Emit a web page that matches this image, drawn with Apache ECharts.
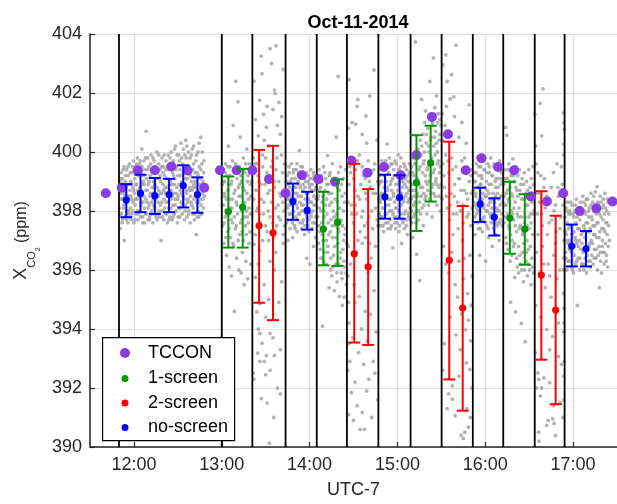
<!DOCTYPE html>
<html><head><meta charset="utf-8">
<script src="https://cdn.jsdelivr.net/npm/echarts@6/dist/echarts.min.js"></script>
<style>html,body{margin:0;padding:0;background:#fff}#c{width:617px;height:504px}</style>
</head><body><div id="c"></div>
<script>
// times are minutes of the day (UTC-7)
const segmentBounds = [709.8, 780, 800.9, 823.6, 844.9, 865.5, 887, 909, 930.2, 951.5, 972.3, 993.8, 1014.2];
const yTicks = [390, 392, 394, 396, 398, 400, 402, 404];
const tcconTime = [700.8,711.7,722.7,734.3,745.6,756.7,768.0,778.8,790.2,801.0,812.3,823.6,834.7,846.0,857.4,868.6,879.5,890.8,902.2,913.0,923.6,934.5,946.7,957.5,968.9,979.7,991.1,1002.1,1013.2,1024.5,1035.9,1046.9];
const tcconValue = [398.60,398.79,399.38,399.38,399.51,399.37,398.79,399.38,399.38,399.38,399.08,398.60,399.21,399.08,398.99,399.71,399.30,399.49,399.21,399.90,401.19,400.60,399.38,399.79,399.49,399.38,398.49,398.32,398.60,398.00,398.09,398.32];
// [time, mean, low, high]
const noScreen = [[714.8,398.37,397.79,398.91],[724.5,398.60,397.96,399.23],[734.3,398.52,397.90,399.12],[744.0,398.56,397.96,399.09],[753.7,398.86,398.12,399.55],[763.4,398.56,397.94,399.14],[828.6,398.32,397.70,398.93],[838.4,398.02,397.37,398.65],[891.5,398.48,397.74,399.23],[901.5,398.46,397.74,399.21],[956.5,398.24,397.63,398.79],[966.2,397.79,397.17,398.43],[1019.1,396.81,396.12,397.54],[1028.8,396.72,396.12,397.32]];
const oneScreen = [[784.5,397.98,396.76,399.17],[794.3,398.13,396.76,399.43],[849.4,397.39,396.16,398.65],[859.1,397.62,396.14,399.07],[913.0,398.96,397.32,400.57],[922.7,399.63,398.32,400.89],[976.8,397.76,396.55,398.99],[987.0,397.39,396.18,398.57]];
const twoScreen = [[805.5,397.50,394.89,400.07],[815.0,397.26,394.30,400.21],[870.5,396.55,393.54,399.60],[880.0,396.11,393.46,398.74],[935.4,396.33,392.29,400.35],[944.6,394.71,391.23,398.17],[998.3,395.83,392.96,398.67],[1008.1,394.64,391.45,397.84]];

const grayA = [[710.2,398.1],[710.4,399.0],[710.6,397.4],[710.9,398.6],[711.2,399.3],[711.5,397.9],[711.8,398.4],[712.1,399.1],[712.3,397.7],[712.6,398.8],[712.9,398.2],[713.2,399.5],[713.4,397.0],[713.7,398.5],[714.0,399.0],[714.3,397.8],[714.6,398.3],[714.9,399.4],[715.2,398.0],[715.5,398.9],[715.8,397.6],[716.1,399.2],[716.4,398.5],[716.7,397.9],[717.0,399.6],[717.3,398.7],[717.6,398.1],[717.9,399.0],[718.2,397.7],[718.5,398.4],[718.8,399.3],[719.1,398.0],[719.4,398.8],[719.7,399.7],[720.0,397.6],[720.3,398.6],[720.6,399.1],[720.9,398.2],[721.2,399.5],[721.5,397.9],[721.8,398.9],[722.1,398.4],[722.4,399.8],[722.7,397.7],[723.0,399.2],[723.3,398.5],[723.6,398.0],[723.9,399.6],[724.2,398.8],[724.5,397.8],[724.8,399.3],[725.1,398.3],[725.4,400.1],[725.7,398.9],[726.0,397.6],[726.3,399.0],[726.6,398.5],[726.9,399.7],[727.2,398.1],[727.5,399.4],[727.8,397.9],[728.1,398.7],[728.4,400.7],[728.7,399.1],[729.0,398.3],[729.3,399.8],[729.6,397.7],[729.9,398.9],[730.2,399.5],[730.5,398.2],[730.8,397.8],[731.1,399.2],[731.4,398.6],[731.7,399.9],[732.0,398.0],[732.3,398.8],[732.6,399.4],[732.9,397.6],[733.2,398.4],[733.5,399.0],[733.8,399.7],[734.1,398.1],[734.4,398.9],[734.7,397.9],[735.0,399.3],[735.3,398.5],[735.6,400.0],[735.9,397.7],[736.2,399.1],[736.5,398.3],[736.8,399.6],[737.1,398.7],[737.4,397.8],[737.7,399.4],[738.0,398.2],[738.3,399.0],[738.6,397.0],[738.9,398.6],[739.2,399.8],[739.5,398.0],[739.8,398.9],[740.1,399.5],[740.4,397.7],[740.7,398.4],[741.0,399.2],[741.3,398.8],[741.6,397.9],[741.9,399.7],[742.2,398.3],[742.5,399.1],[742.8,397.6],[743.1,398.6],[743.4,399.9],[743.7,398.1],[744.0,399.4],[744.3,398.7],[744.6,397.8],[744.9,399.0],[745.2,398.4],[745.5,400.0],[745.8,398.9],[746.1,397.7],[746.4,399.3],[746.7,398.2],[747.0,399.7],[747.3,398.6],[747.6,397.9],[747.9,399.1],[748.2,398.4],[748.5,400.2],[748.8,398.0],[749.1,399.5],[749.4,398.8],[749.7,397.6],[750.0,399.2],[750.3,398.5],[750.6,399.9],[750.9,398.1],[751.2,397.8],[751.5,399.4],[751.8,398.7],[752.1,400.3],[752.4,398.3],[752.7,399.0],[753.0,397.9],[753.3,399.6],[753.6,398.5],[753.9,400.1],[754.2,398.9],[754.5,397.7],[754.8,399.3],[755.1,398.2],[755.4,400.4],[755.7,399.8],[756.0,398.6],[756.3,397.8],[756.6,399.1],[756.9,398.4],[757.2,400.0],[757.5,398.0],[757.8,399.5],[758.1,398.8],[758.4,397.6],[758.7,399.2],[759.0,398.3],[759.3,399.9],[759.6,398.7],[759.9,397.9],[760.2,399.4],[760.5,398.1],[760.8,400.2],[761.1,398.9],[761.4,397.7],[761.7,399.0],[762.0,398.5],[762.3,399.7],[762.6,397.2],[762.9,398.3],[763.2,399.3],[763.5,398.0],[763.8,400.0],[764.1,398.7],[764.4,397.8],[764.7,399.5],[765.0,398.4],[765.3,399.1],[765.6,400.5],[765.9,398.2],[766.2,397.9],[766.5,399.6],[766.8,398.6],[767.1,399.0],[767.4,398.1],[767.7,399.3]];
const grayA2 = [[710.3,398.7],[710.8,397.9],[711.0,399.1],[711.4,398.4],[711.9,397.6],[712.2,398.9],[712.7,399.4],[713.0,398.1],[713.5,398.6],[713.9,397.8],[714.2,399.2],[714.7,398.8],[715.0,397.7],[715.4,398.5],[715.9,399.5],[716.3,398.0],[716.6,398.9],[717.1,397.8],[717.5,399.3],[717.8,398.5],[718.3,398.9],[718.7,397.9],[719.0,399.5],[719.5,398.3],[719.9,398.7],[720.2,399.4],[720.7,397.7],[721.0,398.4],[721.4,398.9],[721.9,399.6],[722.3,398.0],[722.6,398.7],[723.1,397.9],[723.5,399.4],[723.8,398.6],[724.3,399.7],[724.7,398.2],[725.0,398.7],[725.5,399.5],[725.9,397.8],[726.2,398.3],[726.7,399.2],[727.1,398.9],[727.4,397.6],[727.9,399.8],[728.3,398.4],[728.6,397.9],[729.1,398.7],[729.5,399.4],[729.8,398.1],[730.3,399.0],[730.7,397.7],[731.0,398.5],[731.5,399.6],[731.9,398.3],[732.2,397.9],[732.7,398.6],[733.1,399.8],[733.4,398.2],[733.9,398.8],[734.3,399.5],[734.6,398.4],[735.1,397.8],[735.5,399.1],[735.8,398.8],[736.3,397.9],[736.7,398.5],[737.0,399.9],[737.5,398.0],[737.9,399.2],[738.2,398.6],[738.7,399.5],[739.0,398.3],[739.4,397.8],[739.9,399.3],[740.3,398.7],[740.6,399.9],[741.1,398.1],[741.5,398.6],[741.8,399.4],[742.3,397.9],[742.7,398.8],[743.0,399.5],[743.5,398.3],[743.9,397.7],[744.2,398.9],[744.7,399.8],[745.1,398.1],[745.4,398.7],[745.9,399.6],[746.3,398.5],[746.6,397.8],[747.1,399.2],[747.5,398.9],[747.8,400.1],[748.3,398.2],[748.7,399.4],[749.0,398.6],[749.5,399.9],[749.9,398.4],[750.2,397.8],[750.7,398.9],[751.1,399.7],[751.4,398.1],[751.9,399.2],[752.3,398.6],[752.6,399.8],[753.1,398.2],[753.5,398.8],[753.8,399.3],[754.3,398.4],[754.7,399.9],[755.0,398.0],[755.5,399.1],[755.9,398.7],[756.2,400.2],[756.7,398.3],[757.1,399.4],[757.4,397.9],[757.9,398.7],[758.3,399.8],[758.6,398.5],[759.1,399.0],[759.5,398.2],[759.8,400.1],[760.3,398.8],[760.7,399.6],[761.0,398.4],[761.5,397.9],[761.9,399.3],[762.2,398.8],[762.7,399.9],[763.1,398.5],[763.4,397.8],[763.9,399.2],[764.3,398.3],[764.6,400.3],[765.1,398.9],[765.5,397.9],[765.8,399.4],[766.3,398.8],[766.7,400.0],[767.0,398.4],[767.5,398.9],[767.9,399.7],[768.2,398.5]];
const grayB = [[780.3,398.9],[780.6,397.5],[780.9,399.4],[781.2,398.2],[781.5,396.9],[781.8,399.0],[782.1,398.5],[782.4,397.8],[782.7,399.6],[783.0,398.0],[783.3,396.5],[783.6,399.2],[783.9,397.3],[784.2,398.7],[784.5,400.2],[784.8,397.9],[785.1,396.1],[785.4,398.4],[785.7,399.5],[786.0,397.1],[786.3,398.9],[786.6,395.8],[786.9,398.1],[787.2,399.7],[787.5,397.6],[787.8,400.9],[788.1,396.8],[788.4,398.6],[788.7,394.6],[789.0,399.3],[789.3,397.4],[789.6,402.4],[789.9,398.3],[790.2,396.4],[790.5,399.1],[790.8,397.9],[791.1,401.7],[791.4,398.8],[791.7,396.0],[792.0,399.5],[792.3,397.2],[792.6,400.5],[792.9,398.5],[793.2,395.9],[793.5,399.0],[793.8,397.7],[794.1,396.6],[794.4,398.2],[794.7,399.8],[795.0,397.0],[795.3,395.5],[795.6,398.7],[795.9,399.3],[796.2,397.5],[796.5,396.3],[796.8,398.0],[797.1,400.1],[797.4,397.8],[797.7,395.7],[798.0,399.2],[798.3,398.4],[798.6,396.9],[798.9,399.6],[799.2,397.3],[799.5,398.9],[799.8,396.2],[800.1,399.4],[800.4,397.9]];
const grayB2 = [[780.5,398.2],[781.0,399.0],[781.4,397.6],[781.9,398.6],[782.3,399.3],[782.8,397.1],[783.2,398.4],[783.7,397.9],[784.1,399.5],[784.6,398.9],[785.0,397.4],[785.5,399.2],[785.9,398.1],[786.4,397.7],[786.8,399.0],[787.3,398.4],[787.7,396.9],[788.2,399.4],[788.6,397.8],[789.1,398.7],[789.5,399.6],[790.0,397.5],[790.4,398.2],[790.9,399.3],[791.3,397.0],[791.8,398.5],[792.2,398.9],[792.7,397.6],[793.1,399.2],[793.6,398.0],[794.0,397.3],[794.5,398.8],[794.9,399.4],[795.4,397.8],[795.8,398.3],[796.3,399.6],[796.7,397.2],[797.2,398.6],[797.6,399.0],[798.1,397.6],[798.5,398.1],[799.0,399.3],[799.4,397.9],[799.9,398.5],[800.3,399.0]];
const grayC = [[807,403.25],[813,403.5],[817,403.6],[802,402.4],[807.5,402.65],[814,403.0],[816,402.1],[816.5,401.98],[806,401.76],[811,401.55],[808.5,401.28],[815,401.44],[819,401.68],[803,401.1],[810.5,400.84],[818,400.9],[805,400.55],[809,400.4],[812,400.2],[820,400.6],[821,401.2],[822,402.8],[801.5,399.8],[802.5,399.3],[803.5,398.7],[804,399.6],[804.5,398.1],[805.5,399.0],[806.5,397.6],[807,398.4],[808,399.5],[808.5,397.9],[809.5,398.9],[810,399.8],[811,397.3],[811.5,398.6],[812.5,399.2],[813,397.8],[814,398.3],[814.5,399.7],[815.5,397.1],[816,398.8],[817,399.4],[817.5,397.5],[818.5,398.2],[819,399.0],[820,397.7],[820.5,398.5],[821.5,399.3],[822,397.2],[822.5,398.0],[823,399.6],[802,396.87],[806,396.65],[813,396.3],[816,396.0],[803,395.75],[809,395.5],[806,394.86],[804,394.58],[810,394.4],[806,393.85],[813,393.85],[807.5,393.52],[815,393.7],[804.5,393.18],[810.5,393.1],[806,392.9],[813,392.6],[810,392.45],[802,392.3],[801.5,392.5],[807,391.64],[811,391.49],[812.5,390.13],[815.5,391.0],[818,392.0],[820,393.3],[819,394.9],[821,395.6],[817,396.6],[822,396.9],[812,395.0],[805,396.2],[808,397.0],[803,397.2]];
const grayC2 = [[801.8,398.4],[802.8,399.6],[803.8,398.0],[804.8,399.2],[805.8,397.9],[806.8,398.9],[807.8,399.9],[808.8,398.3],[809.8,397.5],[810.8,399.3],[811.8,398.0],[812.8,398.7],[813.8,399.5],[814.8,397.6],[815.8,399.0],[816.8,398.1],[817.8,399.8],[818.8,397.8],[819.8,398.6],[820.8,399.9],[821.8,398.3],[822.8,397.5],[805,394.0],[809,392.9],[816,393.1],[820,391.8],[812,397.0]];
const grayD = [[824.0,398.6],[824.3,397.6],[824.6,399.2],[824.9,398.1],[825.2,397.0],[825.5,398.9],[825.8,399.5],[826.1,397.9],[826.4,398.4],[826.7,397.4],[827.0,399.0],[827.3,398.2],[827.6,399.6],[827.9,397.7],[828.2,398.7],[828.5,397.1],[828.8,399.3],[829.1,398.0],[829.4,398.8],[829.7,397.5],[830.0,399.1],[830.3,398.4],[830.6,397.8],[830.9,399.4],[831.2,398.6],[831.5,397.3],[831.8,398.1],[832.1,399.0],[832.4,397.9],[832.7,398.9],[833.0,400.05],[833.3,398.3],[833.6,397.6],[833.9,399.2],[834.2,398.5],[834.5,397.4],[834.8,398.0],[835.1,399.5],[835.4,398.7],[835.7,397.7],[836.0,398.2],[836.3,399.1],[836.6,397.2],[836.9,398.8],[837.2,398.4],[837.5,397.9],[837.8,399.3],[838.1,396.4],[838.4,398.6],[838.7,397.5],[839.0,399.0],[839.3,398.1],[839.6,397.3],[839.9,398.9],[840.2,396.2],[840.5,398.3],[840.8,399.4],[841.1,397.8],[841.4,398.7],[841.7,397.4],[842.0,399.1],[842.3,398.0],[842.6,396.8],[842.9,398.5],[843.2,399.2],[843.5,397.6],[843.8,398.2],[844.1,397.1],[844.4,398.8],[844.7,399.0]];
const grayD2 = [[824.2,399.0],[824.7,398.4],[825.1,397.7],[825.6,398.2],[826.0,399.3],[826.5,398.8],[826.9,397.9],[827.4,398.5],[827.8,399.1],[828.3,397.6],[828.7,398.3],[829.2,399.4],[829.6,398.6],[830.1,397.4],[830.5,398.8],[831.0,398.2],[831.4,399.6],[831.9,397.7],[832.3,398.5],[832.8,399.3],[833.2,397.9],[833.7,398.8],[834.1,399.5],[834.6,398.2],[835.0,397.6],[835.5,398.9],[835.9,399.3],[836.4,398.0],[836.8,397.5],[837.3,399.0],[837.7,398.6],[838.2,397.8],[838.6,399.2],[839.1,398.4],[839.5,397.7],[840.0,398.8],[840.4,399.1],[840.9,397.9],[841.3,398.3],[841.8,398.9],[842.2,397.6],[842.7,399.3],[843.1,398.2],[843.6,398.7],[844.0,397.8],[844.5,398.4]];
const grayE = [[845.3,399.0],[845.6,397.8],[845.9,398.5],[846.2,396.9],[846.5,399.4],[846.8,398.1],[847.1,397.3],[847.4,398.8],[847.7,396.4],[848.0,399.2],[848.3,397.6],[848.6,398.3],[848.9,394.1],[849.2,397.0],[849.5,399.5],[849.8,398.0],[850.1,396.6],[850.4,398.7],[850.7,397.4],[851.0,399.1],[851.3,396.2],[851.6,398.4],[851.9,397.9],[852.2,399.88],[852.5,396.8],[852.8,398.9],[853.1,397.2],[853.4,395.4],[853.7,398.2],[854.0,399.3],[854.3,396.0],[854.6,397.7],[854.9,398.6],[855.2,395.8],[855.5,399.6],[855.8,397.1],[856.1,398.0],[856.4,396.5],[856.7,399.0],[857.0,395.3],[857.3,397.5],[857.6,398.4],[857.9,396.2],[858.2,400.5],[858.5,397.9],[858.8,395.6],[859.1,398.8],[859.4,396.9],[859.7,399.3],[860.0,397.3],[860.3,395.1],[860.6,398.1],[860.9,396.4],[861.2,399.5],[861.5,397.7],[861.8,395.9],[862.1,398.5],[862.4,394.8],[862.7,396.7],[863.0,399.1],[863.3,397.0],[863.6,395.08],[863.9,398.3],[864.2,396.1],[864.5,399.4],[864.8,397.4],[865.1,395.5],[859.5,402.56]];
const grayE2 = [[845.5,398.4],[846.0,399.2],[846.4,397.5],[846.9,398.7],[847.3,396.7],[847.8,398.0],[848.2,399.0],[848.7,397.2],[849.1,398.5],[849.6,396.3],[850.0,397.8],[850.5,399.3],[850.9,398.2],[851.4,397.0],[851.8,398.9],[852.3,396.6],[852.7,397.6],[853.2,398.6],[853.6,399.2],[854.1,397.3],[854.5,396.4],[855.0,398.3],[855.4,397.5],[855.9,396.1],[856.3,399.1],[856.8,397.8],[857.2,396.8],[857.7,398.9],[858.1,397.1],[858.6,395.9],[859.0,398.3],[859.5,397.4],[859.9,396.2],[860.4,398.7],[860.8,397.6],[861.3,396.6],[861.7,398.9],[862.2,395.7],[862.6,397.5],[863.1,398.0],[863.5,396.3],[864.0,397.2],[864.4,398.6],[864.9,395.9],[865.3,396.9]];
const grayF = [[867,402.45],[873,401.78],[872.5,401.55],[878.5,401.22],[871.5,400.94],[884,402.78],[869,401.0],[876,400.6],[881,401.9],[886,400.4],[866.5,400.8],[879,400.3],[866,399.7],[867,398.9],[868,399.3],[868.5,398.2],[869.5,399.8],[870,397.6],[871,398.7],[871.5,399.4],[872,397.9],[873,398.5],[874,399.9],[874.5,397.3],[875,398.9],[876,399.5],[876.5,398.0],[877.5,397.5],[878,399.1],[879,398.4],[880,399.7],[880.5,397.8],[881.5,398.8],[882,399.3],[883,397.4],[883.5,398.6],[884.5,399.6],[885,398.1],[886,397.7],[886.5,399.0],[866.5,396.8],[868,396.2],[870.5,395.5],[872,396.6],[874,395.1],[876,396.9],[878,394.6],[880,395.9],[882,396.4],[884,395.3],[867,394.2],[869.5,393.7],[871,394.9],[873.5,393.2],[875.5,394.0],[877,392.8],[879.5,393.6],[881.5,394.5],[883.5,392.9],[885.5,393.9],[866,392.6],[868.5,391.84],[871,392.2],[872.5,391.4],[874.5,390.6],[876,391.17],[877.5,390.6],[879,391.9],[880.5,392.3],[882.5,391.0],[884.5,392.5],[886.5,391.6],[870,390.9],[885,396.8],[878,397.1]];
const grayF2 = [[866.2,398.3],[867.5,399.5],[868.8,397.9],[870.2,399.1],[871.3,398.2],[872.8,399.7],[874.2,398.4],[875.6,397.8],[876.8,399.2],[878.3,398.6],[879.6,397.6],[880.8,399.0],[882.4,398.0],[883.8,399.4],[885.3,398.6],[886.7,397.5],[866.3,395.8],[866.7,394.9],[866.4,393.5],[867.5,392.9],[866.6,391.1],[873,397.0],[881,396.9]];
const grayG = [[887.3,398.9],[887.6,397.9],[887.9,399.4],[888.2,398.3],[888.5,397.5],[888.8,399.0],[889.1,398.6],[889.4,399.7],[889.7,397.8],[890.0,398.4],[890.3,399.2],[890.6,397.3],[890.9,398.8],[891.2,398.1],[891.5,399.5],[891.8,397.6],[892.1,398.5],[892.4,399.0],[892.7,397.9],[893.0,400.27],[893.3,398.7],[893.6,397.4],[893.9,399.3],[894.2,398.2],[894.5,399.8],[894.8,397.7],[895.1,398.9],[895.4,398.4],[895.7,399.6],[896.0,397.5],[896.3,398.0],[896.6,399.1],[896.9,396.75],[897.2,398.6],[897.5,399.4],[897.8,397.8],[898.1,398.3],[898.4,399.7],[898.7,397.4],[899.0,398.9],[899.3,398.1],[899.6,399.2],[899.9,397.6],[900.2,398.7],[900.5,399.9],[900.8,398.0],[901.1,397.3],[901.4,399.0],[901.7,398.5],[902.0,399.5],[902.3,397.9],[902.6,398.2],[902.9,396.9],[903.2,399.3],[903.5,398.8],[903.8,397.6],[904.1,398.4],[904.4,399.6],[904.7,397.4],[905.0,398.9],[905.3,399.1],[905.6,398.0],[905.9,397.7],[906.2,399.4],[906.5,398.6],[906.8,397.2],[907.1,398.3],[907.4,399.0],[907.7,397.8],[908.0,398.7],[908.3,399.6],[908.6,398.1]];
const grayG2 = [[887.5,398.4],[888.0,399.2],[888.4,397.8],[888.9,398.5],[889.3,399.0],[889.8,398.1],[890.2,397.5],[890.7,399.4],[891.1,398.6],[891.6,397.9],[892.0,399.7],[892.5,398.2],[892.9,398.8],[893.4,397.6],[893.8,398.4],[894.3,399.5],[894.7,398.0],[895.2,397.4],[895.6,399.0],[896.1,398.7],[896.5,399.6],[897.0,397.9],[897.4,398.5],[897.9,399.2],[898.3,397.6],[898.8,398.1],[899.2,399.6],[899.7,398.4],[900.1,397.8],[900.6,398.9],[901.0,399.4],[901.5,397.5],[901.9,398.2],[902.4,399.8],[902.8,398.6],[903.3,397.7],[903.7,399.0],[904.2,398.3],[904.6,397.9],[905.1,399.5],[905.5,398.5],[906.0,397.5],[906.4,398.8],[906.9,399.2],[907.3,397.9],[907.8,398.4],[908.2,399.3],[908.7,397.7]];
const grayH = [[909.3,398.4],[909.6,399.5],[909.9,397.6],[910.2,398.9],[910.5,397.1],[910.8,399.8],[911.1,398.2],[911.4,399.2],[911.7,397.9],[912.0,398.7],[912.3,403.73],[912.6,399.6],[912.9,398.0],[913.2,396.53],[913.5,399.1],[913.8,398.5],[914.1,400.1],[914.4,397.7],[914.7,399.4],[915.0,398.3],[915.3,395.64],[915.6,400.4],[915.9,398.8],[916.2,399.9],[916.5,401.78],[916.8,398.1],[917.1,399.3],[917.4,400.6],[917.7,397.5],[918.0,398.6],[918.3,399.7],[918.6,401.0],[918.9,398.4],[919.2,401.39],[919.5,399.0],[919.8,400.3],[920.1,397.9],[920.4,398.9],[920.7,400.8],[921.0,399.5],[921.3,398.2],[921.6,400.0],[921.9,401.2],[922.2,402.39],[922.5,399.2],[922.8,398.6],[923.1,400.5],[923.4,399.8],[923.7,397.8],[924.0,401.0],[924.3,398.9],[924.6,403.19],[924.9,400.2],[925.2,399.4],[925.5,401.5],[925.8,398.5],[926.1,400.7],[926.4,399.1],[926.7,401.9],[927.0,398.2],[927.3,400.0],[927.6,399.6],[927.9,401.3],[928.2,398.8],[928.5,400.4],[928.8,399.3],[929.1,401.1],[929.4,398.0],[929.7,400.9]];
const grayH2 = [[909.5,398.0],[910.0,398.7],[910.4,399.3],[910.9,397.8],[911.3,398.5],[911.8,399.6],[912.2,398.3],[912.7,397.6],[913.1,399.0],[913.6,398.6],[914.0,399.8],[914.5,398.0],[914.9,398.9],[915.4,399.5],[915.8,397.9],[916.3,398.5],[916.7,400.2],[917.2,398.8],[917.6,399.6],[918.1,398.2],[918.5,400.0],[919.0,399.2],[919.4,398.5],[919.9,400.6],[920.3,399.4],[920.8,398.7],[921.2,400.2],[921.7,399.0],[922.1,398.4],[922.6,400.4],[923.0,399.6],[923.5,398.8],[923.9,400.9],[924.4,399.3],[924.8,398.6],[925.3,400.5],[925.7,399.9],[926.2,399.0],[926.6,400.3],[927.1,398.9],[927.5,401.0],[928.0,399.7],[928.4,398.5],[928.9,400.6],[929.3,399.5],[929.8,398.9]];
const grayI = [[931,402.95],[933,403.29],[934,402.39],[937,402.62],[940,403.62],[938.5,401.87],[936,401.8],[933.5,401.55],[930.5,401.3],[932.5,400.9],[930.8,400.4],[935,400.7],[939,401.2],[942,400.5],[944,401.0],[947,400.3],[949,401.6],[931,399.6],[932,398.8],[933,399.9],[934,398.1],[935,399.3],[935.5,397.7],[936.5,398.6],[937,399.8],[938,397.9],[939,398.9],[940,399.5],[941,398.3],[941.5,397.4],[942.5,399.1],[943,398.0],[944,399.7],[945,397.6],[945.5,398.7],[946.5,399.3],[947.5,397.8],[948,398.4],[949,399.0],[950,397.5],[950.5,398.6],[951,399.4],[931.5,396.8],[933,396.2],[935,395.9],[937,396.6],[939.5,395.5],[941,395.08],[942,396.3],[944,394.52],[945,395.7],[946.5,393.97],[948,395.2],[949.5,396.5],[950.5,394.8],[943,393.3],[947,392.85],[949.5,392.63],[937.5,392.07],[934,391.3],[935,391.8],[937.5,391.62],[939.5,391.06],[945,390.29],[946,390.5],[943.5,390.4],[948.5,390.67],[947.5,391.3],[932,393.5],[936,394.4],[940,393.8],[942,392.4],[931,392.6],[950,393.6],[944.5,397.0],[938,397.2]];
const grayI2 = [[930.6,398.4],[931.8,399.2],[933.4,398.5],[934.6,399.7],[936.0,398.2],[937.6,399.4],[938.8,398.5],[940.4,397.9],[941.8,399.1],[943.4,398.7],[944.8,398.2],[946.0,399.8],[947.2,398.6],[948.6,397.9],[950.2,399.2],[951.2,398.1],[945.5,396.4],[948.5,394.3],[951,395.8],[950.8,392.0],[949.8,391.0]];
const grayJ = [[951.8,398.7],[952.1,397.6],[952.4,399.3],[952.7,398.2],[953.0,397.2],[953.3,399.0],[953.6,398.5],[953.9,399.6],[954.2,397.9],[954.5,398.8],[954.8,399.83],[955.1,398.0],[955.4,397.4],[955.7,399.2],[956.0,398.4],[956.3,396.5],[956.6,398.9],[956.9,399.5],[957.2,397.7],[957.5,398.3],[957.8,399.1],[958.1,397.3],[958.4,398.6],[958.7,399.7],[959.0,398.1],[959.3,397.8],[959.6,399.4],[959.9,398.5],[960.2,396.3],[960.5,398.0],[960.8,399.0],[961.1,397.5],[961.4,398.7],[961.7,399.6],[962.0,398.2],[962.3,397.1],[962.6,398.9],[962.9,399.3],[963.2,397.9],[963.5,398.4],[963.8,399.8],[964.1,397.6],[964.4,398.1],[964.7,396.8],[965.0,399.2],[965.3,398.6],[965.6,397.4],[965.9,399.5],[966.2,398.3],[966.5,397.8],[966.8,399.0],[967.1,398.8],[967.4,397.2],[967.7,399.4],[968.0,398.0],[968.3,398.6],[968.6,397.6],[968.9,399.1],[969.2,398.4],[969.5,397.0],[969.8,399.7],[970.1,398.2],[970.4,397.7],[970.7,398.9],[971.0,399.3],[971.3,398.5],[971.6,397.5],[971.9,399.0]];
const grayJ2 = [[952.0,398.3],[952.5,399.0],[952.9,397.8],[953.4,398.6],[953.8,399.3],[954.3,398.1],[954.7,397.6],[955.2,398.8],[955.6,399.5],[956.1,398.0],[956.5,397.4],[957.0,398.9],[957.4,399.2],[957.9,398.4],[958.3,397.7],[958.8,398.2],[959.2,399.4],[959.7,398.8],[960.1,397.6],[960.6,398.5],[961.0,399.3],[961.5,398.0],[961.9,397.4],[962.4,398.6],[962.8,399.5],[963.3,398.3],[963.7,397.8],[964.2,398.9],[964.6,399.2],[965.1,397.9],[965.5,398.4],[966.0,399.6],[966.4,397.6],[966.9,398.5],[967.3,399.1],[967.8,398.1],[968.2,397.5],[968.7,398.8],[969.1,399.4],[969.6,398.0],[970.0,397.6],[970.5,398.5],[970.9,399.1],[971.4,397.9],[971.8,398.3]];
const grayK = [[972.6,398.9],[972.9,397.6],[973.2,399.4],[973.5,398.2],[973.8,400.83],[974.1,397.1],[974.4,398.6],[974.7,400.57],[975.0,399.1],[975.3,397.9],[975.6,396.7],[975.9,398.4],[976.2,399.6],[976.5,397.4],[976.8,398.8],[977.1,396.3],[977.4,394.91],[977.7,399.2],[978.0,398.0],[978.3,397.0],[978.6,398.5],[978.9,399.77],[979.2,396.8],[979.5,397.7],[979.8,399.0],[980.1,395.75],[980.4,398.3],[980.7,394.58],[981.0,399.5],[981.3,397.3],[981.6,398.7],[981.9,396.1],[982.2,399.2],[982.5,397.8],[982.8,395.9],[983.1,398.1],[983.4,399.4],[983.7,396.5],[984.0,397.5],[984.3,398.9],[984.6,394.19],[984.9,396.0],[985.2,399.1],[985.5,397.2],[985.8,398.4],[986.1,395.6],[986.4,396.9],[986.7,399.3],[987.0,397.6],[987.3,393.57],[987.6,398.6],[987.9,396.3],[988.2,399.0],[988.5,397.0],[988.8,395.8],[989.1,398.2],[989.4,396.7],[989.7,399.4],[990.0,397.4],[990.3,396.0],[990.6,398.8],[990.9,397.9],[991.2,395.5],[991.5,399.1],[991.8,396.4],[992.1,398.3],[992.4,397.2],[992.7,399.5],[993.0,395.9],[993.4,398.0]];
const grayK2 = [[972.8,398.5],[973.3,397.8],[973.7,399.1],[974.2,398.2],[974.6,396.9],[975.1,398.7],[975.5,399.4],[976.0,397.5],[976.4,398.3],[976.9,399.0],[977.3,397.2],[977.8,398.6],[978.2,396.5],[978.7,397.9],[979.1,399.2],[979.6,398.1],[980.0,396.9],[980.5,397.5],[980.9,398.8],[981.4,396.4],[981.8,397.9],[982.3,398.5],[982.7,396.8],[983.2,397.4],[983.6,398.7],[984.1,396.2],[984.5,397.8],[985.0,398.4],[985.4,396.6],[985.9,397.3],[986.3,398.9],[986.8,396.0],[987.2,397.8],[987.7,398.2],[988.1,396.6],[988.6,397.5],[989.0,398.7],[989.5,396.2],[989.9,397.8],[990.4,398.4],[990.8,396.8],[991.3,397.6],[991.7,398.6],[992.2,396.1],[992.6,397.9],[993.1,398.9]];
const grayL = [[999.5,402.14],[997.5,401.65],[998.5,400.55],[993.9,401.28],[994.5,400.2],[1013.5,401.33],[1013.8,401.0],[1014,400.77],[1013.5,400.27],[1013.6,399.9],[1009,399.6],[1012,399.5],[996,399.3],[998,399.2],[1000,398.8],[994.5,398.6],[995.5,397.9],[997,398.3],[999,397.5],[1001,398.1],[1002.5,397.2],[1004,398.4],[1005.5,397.7],[1007,398.0],[1008.5,397.3],[1010,398.5],[1011.5,397.8],[1013,398.2],[1013.8,397.0],[995,396.6],[997,395.9],[999,396.8],[1001,395.4],[1003,396.2],[1005,395.08],[1007,396.5],[1009,395.7],[1011,396.0],[1013.5,395.2],[1013.7,396.4],[994.5,394.8],[998,394.4],[1002,393.98],[1006,393.74],[1008,394.6],[1010,394.2],[1013.6,393.9],[1013.8,394.7],[1004,393.3],[1010,393.07],[996,392.51],[1000,392.34],[995,392.0],[1012,392.8],[1013.7,392.4],[996.5,392.29],[997.5,391.73],[998.5,392.0],[1004,392.18],[1006,390.95],[1006.5,391.4],[1007,390.8],[1002,390.73],[1003,390.9],[996.5,390.5],[996.7,390.2],[1008,390.39],[1011,391.5],[1013,391.0],[994.2,393.2]];
const grayL2 = [[994.8,399.6],[996.4,398.6],[998.4,397.9],[1000.4,399.1],[1002,398.5],[1003.6,397.6],[1005,398.8],[1006.6,399.3],[1008,398.2],[1009.6,398.8],[1011,397.4],[1012.6,398.9],[1013.9,398.6],[1013.6,396.0],[1013.8,394.2],[1013.9,392.9],[1013.7,391.6],[996,397.2],[1000,396.2],[1004,395.8],[1008,396.9]];
const grayM = [[1014.5,397.8],[1014.8,396.6],[1015.1,398.1],[1015.4,397.2],[1015.7,396.0],[1016.0,397.6],[1016.3,398.3],[1016.6,396.9],[1016.9,397.4],[1017.2,396.3],[1017.5,398.0],[1017.8,397.0],[1018.1,396.7],[1018.4,397.9],[1018.7,396.1],[1019.0,397.5],[1019.3,398.2],[1019.6,396.8],[1019.9,397.3],[1020.2,395.9],[1020.5,397.8],[1020.8,396.5],[1021.1,398.0],[1021.4,397.1],[1021.7,396.2],[1022.0,397.6],[1022.3,398.4],[1022.6,396.9],[1022.9,394.8],[1023.2,397.4],[1023.5,396.4],[1023.8,398.1],[1024.1,397.0],[1024.4,396.0],[1024.7,397.7],[1025.0,398.3],[1025.3,396.7],[1025.6,397.2],[1025.9,396.2],[1026.2,397.9],[1026.5,398.5],[1026.8,396.6],[1027.1,397.5],[1027.4,396.0],[1027.7,398.0],[1028.0,397.1],[1028.3,396.4],[1028.6,398.2],[1028.9,397.6],[1029.2,395.9],[1029.5,396.8],[1029.8,398.4],[1030.1,397.3],[1030.4,396.3],[1030.7,397.8],[1031.0,398.1],[1031.3,396.9],[1031.6,397.4],[1031.9,396.1],[1032.2,398.6],[1032.5,397.0],[1032.8,396.5],[1033.1,397.7],[1033.4,398.3],[1033.7,396.2],[1034.0,397.2],[1034.3,398.0],[1034.6,396.7],[1034.9,397.5],[1035.2,398.65],[1035.5,396.4],[1035.8,397.9],[1036.1,397.1],[1036.4,398.82],[1036.7,396.0],[1037.0,397.6],[1037.3,398.2],[1037.6,396.8],[1037.9,395.4],[1038.2,397.3],[1038.5,398.5],[1038.8,396.3],[1039.1,397.8],[1039.4,395.9],[1039.7,398.1],[1040.0,397.0],[1040.3,396.6],[1040.6,398.4],[1040.9,397.4],[1041.2,396.2],[1041.5,397.9],[1041.8,398.6],[1042.1,396.9],[1042.4,397.6],[1042.7,396.5],[1043.0,398.0],[1043.3,397.2],[1043.6,396.1],[1043.9,398.3],[1044.2,397.5]];
const grayM2 = [[1014.7,397.3],[1015.2,396.4],[1015.6,398.0],[1016.1,397.0],[1016.5,396.3],[1017.0,397.9],[1017.4,396.7],[1017.9,397.5],[1018.3,398.3],[1018.8,396.6],[1019.2,397.2],[1019.7,396.0],[1020.1,397.9],[1020.6,397.3],[1021.0,396.8],[1021.5,398.2],[1021.9,397.0],[1022.4,396.3],[1022.8,397.8],[1023.3,398.1],[1023.7,396.8],[1024.2,397.4],[1024.6,396.4],[1025.1,397.9],[1025.5,398.1],[1026.0,396.9],[1026.4,397.3],[1026.9,396.2],[1027.3,398.3],[1027.8,397.4],[1028.2,396.7],[1028.7,397.9],[1029.1,398.4],[1029.6,396.5],[1030.0,397.6],[1030.5,398.0],[1030.9,396.8],[1031.4,397.3],[1031.8,396.3],[1032.3,398.2],[1032.7,397.8],[1033.2,396.9],[1033.6,397.5],[1034.1,398.5],[1034.5,396.4],[1035.0,397.2],[1035.4,398.0],[1035.9,396.7],[1036.3,397.6],[1036.8,398.3],[1037.2,396.5],[1037.7,397.1],[1038.1,397.9],[1038.6,396.6],[1039.0,398.3],[1039.5,397.4],[1039.9,396.8],[1040.4,397.7],[1040.8,398.2],[1041.3,396.6],[1041.7,397.3],[1042.2,398.1],[1042.6,396.3],[1043.1,397.6],[1043.5,398.4],[1044.0,396.8],[1044.4,397.9],[1044.8,397.0]];

const T = m => Date.UTC(2014, 9, 11, 0, 0) + m * 60000;
const pad = n => (n < 10 ? '0' : '') + n;
const FONT = 'Liberation Sans, Arial, Helvetica, sans-serif';
const AX = '#262626';
const C_PURPLE = '#8c3ce3', C_GREEN = '#009600', C_RED = '#ff0000', C_BLUE = '#0000ff';

const grayAll = [].concat(grayA, grayA2, grayB, grayB2, grayC, grayC2, grayD, grayD2, grayE, grayE2, grayF, grayF2,
  grayG, grayG2, grayH, grayH2, grayI, grayI2, grayJ, grayJ2, grayK, grayK2, grayL, grayL2, grayM, grayM2)
  .map(p => [T(p[0]), p[1]]);

function errRender(color) {
  return function (params, api) {
    const x = api.value(0), m = api.value(1), lo = api.value(2), hi = api.value(3);
    const pLo = api.coord([x, lo]), pHi = api.coord([x, hi]), pM = api.coord([x, m]);
    const w = 6;
    const st = { stroke: color, lineWidth: 2, fill: null };
    return { type: 'group', children: [
      { type: 'line', shape: { x1: pLo[0], y1: pLo[1], x2: pHi[0], y2: pHi[1] }, style: st },
      { type: 'line', shape: { x1: pLo[0] - w, y1: pLo[1], x2: pLo[0] + w, y2: pLo[1] }, style: st },
      { type: 'line', shape: { x1: pHi[0] - w, y1: pHi[1], x2: pHi[0] + w, y2: pHi[1] }, style: st },
      { type: 'circle', shape: { cx: pM[0], cy: pM[1], r: 3.6 }, style: { fill: color } }
    ]};
  };
}
function errSeries(name, arr, color) {
  return { name, type: 'custom', z: 5, silent: true, itemStyle: { color },
    encode: { x: 0, y: [1, 2, 3] },
    data: arr.map(d => [T(d[0]), d[1], d[2], d[3]]),
    renderItem: errRender(color) };
}
// legend marker centred at x=125, text starting at x=148
function legendItem(name, color, size, top) {
  const left = 125 - size / 2;
  const textPad = 148 - (left + size + 5);
  return { show: true, selectedMode: false, orient: 'vertical', left: left, top: top, padding: 0, z: 120,
    itemWidth: size, itemHeight: size,
    textStyle: { fontFamily: FONT, fontSize: 18, color: '#000', padding: [0, 0, 0, textPad] },
    data: [{ name, icon: 'circle', itemStyle: { color } }] };
}

const chart = echarts.init(document.getElementById('c'), null, { renderer: 'canvas' });
chart.setOption({
  animation: false,
  useUTC: true,
  backgroundColor: '#fff',
  title: { text: 'Oct-11-2014', left: 353, top: 9, textAlign: 'center',
    textStyle: { fontFamily: FONT, fontSize: 18, fontWeight: 'bold', color: '#000' } },
  grid: { left: 90, right: -3, top: 34, bottom: 52, containLabel: false },
  legend: [
    legendItem('TCCON', C_PURPLE, 10, 344),
    legendItem('1-screen', C_GREEN, 7, 369.5),
    legendItem('2-screen', C_RED, 7, 394),
    legendItem('no-screen', C_BLUE, 7, 418.5)
  ],
  graphic: [{ type: 'rect', left: 102, top: 337, z: 100, silent: true,
    shape: { width: 132, height: 103 }, style: { fill: '#fff', stroke: '#000', lineWidth: 1.2 } }],
  xAxis: {
    type: 'time', min: T(690), max: T(1050), minInterval: 3600000, maxInterval: 3600000,
    name: 'UTC-7', nameLocation: 'middle', nameGap: 34,
    nameTextStyle: { fontFamily: FONT, fontSize: 18, color: AX },
    axisLine: { show: true, lineStyle: { color: AX, width: 1.5 } },
    axisTick: { show: true, inside: true, length: 5, lineStyle: { color: AX, width: 1.2 } },
    axisLabel: { fontFamily: FONT, fontSize: 18, color: AX, margin: 9,
      formatter: v => { const d = new Date(v); return pad(d.getUTCHours()) + ':' + pad(d.getUTCMinutes()); } },
    splitLine: { show: true, lineStyle: { color: '#dedede', width: 1 } },
    minorTick: { show: false }
  },
  yAxis: {
    type: 'value', min: yTicks[0], max: yTicks[yTicks.length - 1], interval: 2,
    name: '{x|X}{s|CO}{t|2}{p| (ppm)}', nameLocation: 'middle', nameGap: 55, nameRotate: 90,
    nameTextStyle: { fontFamily: FONT, color: AX,
      rich: {
        x: { fontFamily: FONT, fontSize: 18, color: AX, verticalAlign: 'top', lineHeight: 18 },
        s: { fontFamily: FONT, fontSize: 11, color: AX, verticalAlign: 'top', lineHeight: 11, padding: [14, 0, 0, 0] },
        t: { fontFamily: FONT, fontSize: 7, color: AX, verticalAlign: 'top', lineHeight: 7, padding: [22, 0, 0, 0] },
        p: { fontFamily: FONT, fontSize: 16, color: AX, verticalAlign: 'top', lineHeight: 16, padding: [2, 0, 0, 0] }
      } },
    axisLine: { show: true, lineStyle: { color: AX, width: 1.5 } },
    axisTick: { show: true, inside: true, length: 5, lineStyle: { color: AX, width: 1.2 } },
    axisLabel: { fontFamily: FONT, fontSize: 18, color: AX, margin: 8 },
    splitLine: { show: true, lineStyle: { color: '#dedede', width: 1 } }
  },
  series: [
    { name: 'gray', type: 'scatter', z: 1, silent: true, symbolSize: 3.8,
      itemStyle: { color: '#a0a0a0' }, data: grayAll },
    { name: 'bounds', type: 'custom', z: 2, silent: true,
      encode: { x: 0, y: [1, 2] },
      data: segmentBounds.map(t => [T(t), yTicks[0], yTicks[yTicks.length - 1]]),
      renderItem: (params, api) => {
        const a = api.coord([api.value(0), api.value(1)]), b = api.coord([api.value(0), api.value(2)]);
        return { type: 'line', shape: { x1: a[0], y1: a[1], x2: b[0], y2: b[1] }, style: { stroke: '#000', lineWidth: 1.8 } };
      } },
    { name: 'TCCON', type: 'scatter', z: 3, silent: true, symbolSize: 10,
      itemStyle: { color: C_PURPLE, opacity: 1 },
      data: tcconTime.map((t, i) => [T(t), tcconValue[i]]) },
    errSeries('1-screen', oneScreen, C_GREEN),
    errSeries('2-screen', twoScreen, C_RED),
    errSeries('no-screen', noScreen, C_BLUE)
  ]
});
</script>
</body></html>
